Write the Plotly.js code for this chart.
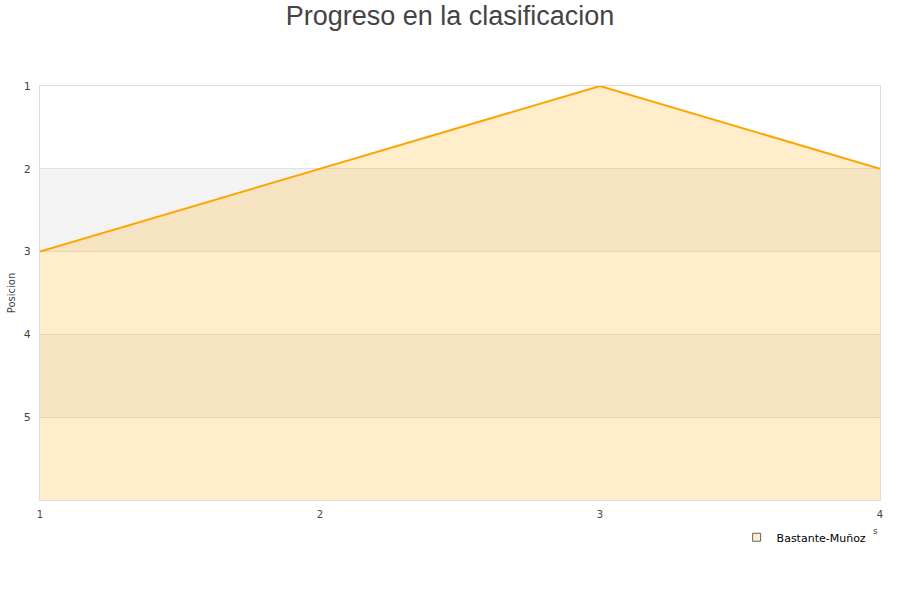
<!DOCTYPE html>
<html>
<head>
<meta charset="utf-8">
<script src="https://cdn.plot.ly/plotly-3.0.1.min.js"></script>
<style>html,body{margin:0;padding:0;background:#fff;}#chart{width:900px;height:600px;}</style>
</head>
<body>
<div id="chart"></div>
<script>
const jornadas = [1, 2, 3, 4];
const posiciones = [3, 2, 1, 2];
const equipo = "Bastante-Muñoz";
const yTicks = [1, 2, 3, 4, 5];
const fondo = [6, 6, 6, 6];
const bandas = [[2, 3], [4, 5]];

const fillColor = 'rgba(255,165,0,0.2)';

const traces = [
  {x: jornadas, y: fondo, mode: 'lines', line: {width: 0, color: 'rgba(0,0,0,0)'}, showlegend: false, hoverinfo: 'skip'},
  {x: jornadas, y: posiciones, mode: 'lines', fill: 'tonexty', fillcolor: fillColor,
   line: {color: '#ffa500', width: 2}, showlegend: false, name: equipo},
  {x: [null], y: [null], mode: 'markers', name: equipo,
   marker: {symbol: 'square', size: 8, color: '#ffedcc', line: {color: '#666', width: 1}}}
];

const shapes = bandas.map(b => ({
  type: 'rect', xref: 'paper', yref: 'y', x0: 0, x1: 1, y0: b[0], y1: b[1],
  fillcolor: '#f3f3f3', line: {width: 0}, layer: 'below'
}));

const layout = {
  width: 900, height: 600,
  margin: {l: 40, r: 20, t: 86, b: 100},
  paper_bgcolor: '#fff', plot_bgcolor: '#fff',
  title: {text: 'Progreso en la clasificacion', x: 0.5, xanchor: 'center', y: 0.99, yanchor: 'top',
    font: {family: 'Liberation Sans, Arial, sans-serif', size: 27, color: '#444'}},
  font: {family: 'DejaVu Sans, sans-serif', size: 11, color: '#444'},
  xaxis: {range: [1, 4], tickvals: jornadas, ticktext: jornadas.map(String), showgrid: false, zeroline: false,
    showline: true, linecolor: '#ddd', mirror: true, ticks: '', tickfont: {size: 10}, ticklabelstandoff: 5},
  yaxis: {range: [6, 1], tickvals: yTicks, ticktext: yTicks.map(String), showgrid: true, gridcolor: '#e2e2e2',
    zeroline: false, showline: true, linecolor: '#ddd', mirror: true, ticks: '', tickfont: {size: 11},
    ticklabelstandoff: 6,
    title: {text: 'Posicion', font: {size: 10, color: '#444'}, standoff: 6}},
  shapes: shapes,
  showlegend: true,
  legend: {x: 0.99, xanchor: 'right', y: -0.09, yanchor: 'middle', orientation: 'h',
    font: {size: 11, color: '#000'}, bgcolor: 'rgba(0,0,0,0)'},
  annotations: [{xref: 'paper', yref: 'paper', x: 1.0, y: -0.092, text: 's', showarrow: false,
    font: {size: 9, color: '#444'}}]
};

Plotly.newPlot('chart', traces, layout, {displayModeBar: false, staticPlot: true});
</script>
</body>
</html>
